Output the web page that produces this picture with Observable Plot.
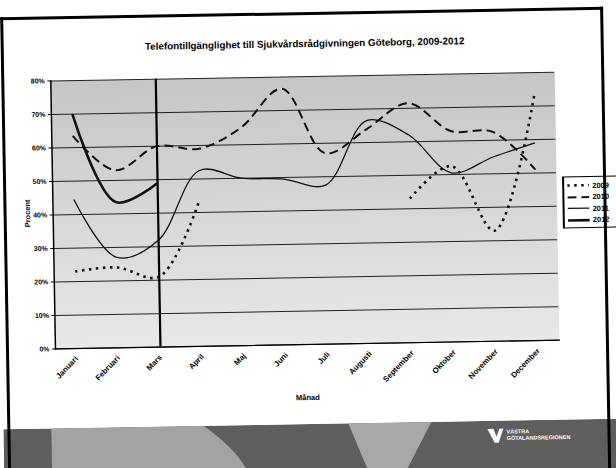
<!DOCTYPE html>
<html>
<head>
<meta charset="utf-8">
<script src="https://cdn.jsdelivr.net/npm/d3@7"></script>
<script src="https://cdn.jsdelivr.net/npm/@observablehq/plot@0.6"></script>
<style>
  html, body { margin: 0; padding: 0; background: #fff; overflow: hidden; }
  #slide { position: relative; width: 616px; height: 468px; transform: rotate(-1deg); transform-origin: 308px 234px; font-family: "Liberation Sans", Arial, sans-serif; color: #000; }
  #border { position: absolute; left: 4px; top: 12px; width: 603px; height: 470px; border: 3px solid #000; box-sizing: border-box; border-bottom: none; }
  #title { position: absolute; left: 0; width: 616px; top: 38px; text-align: center; font-size: 9.8px; font-weight: bold; color: #000; }
  #chart { position: absolute; left: 0; top: 0; }
  #ylabel { position: absolute; left: 8px; top: 204px; width: 40px; text-align: center; font-size: 7.5px; font-weight: bold; transform: rotate(-90deg); color: #000; }
  #xlabel { position: absolute; left: 265px; width: 80px; top: 393px; text-align: center; font-size: 7.5px; font-weight: bold; color: #000; }
  #legend { position: absolute; left: 563px; top: 181px; width: 60px; height: 50px; border: 1px solid #000; border-left: 2px solid #000; background: #fff; font-size: 7.5px; font-weight: bold; color: #000; }
  #legend .row { position: absolute; left: 3px; height: 10px; display: flex; align-items: center; }
  #legend .row span { margin-left: 3px; }
  #band { position: absolute; left: 0; top: 424px; }
</style>
</head>
<body>
<div id="slide">
  <div id="title">Telefontillgänglighet till Sjukvårdsrådgivningen Göteborg, 2009-2012</div>
  <div id="chart"></div>
  <div id="ylabel">Procent</div>
  <div id="xlabel">Månad</div>
  <div id="legend"></div>
  <svg id="band" width="630" height="60" viewBox="0 0 630 60">
    <rect x="0" y="0" width="630" height="60" fill="#5e5e5e"/>
    <path d="M48,0 L200,0 C225,18 240,35 250,60 L48,60 Z" fill="#a3a3a3"/>
    <path d="M345,0 L428,0 L396,60 L369,60 Z" fill="#a8a8a8"/>
    <path d="M484,8 L490,8 L493,16 L496,8 L500,8 L495,22 L491,22 Z" fill="#fff"/>
    <text x="503" y="13" fill="#fff" font-size="5.5" font-weight="bold">VÄSTRA</text>
    <text x="503" y="19.5" fill="#fff" font-size="5.5" font-weight="bold">GÖTALANDSREGIONEN</text>
  </svg>
  <div id="border"></div>
</div>
<script>
const months = ["Januari","Februari","Mars","April","Maj","Juni","Juli","Augusti","September","Oktober","November","December"];
const years = ["2009","2010","2011","2012"];
const v2009 = [23, 24, 21, 44, null, null, null, null, 43, 52.5, 33, 73];
const v2010 = [63.5, 53, 60, 59, 65, 76.5, 57, 64, 71.5, 63, 62.5, 51];
const v2011 = [44.5, 27, 32, 52.5, 50, 49.5, 47.5, 66.5, 62, 50.5, 55, 59];
const v2012 = [70, 43.5, 49, null, null, null, null, null, null, null, null, null];
const yTicks = [0, 10, 20, 30, 40, 50, 60, 70, 80];
const markerMonth = ["Mars"];

const seriesValues = {"2009": v2009, "2010": v2010, "2011": v2011, "2012": v2012};
const styles = {
  "2009": {strokeWidth: 2.6, strokeDasharray: "2.5,4.5"},
  "2010": {strokeWidth: 2, strokeDasharray: "9,5"},
  "2011": {strokeWidth: 1.3, strokeDasharray: null},
  "2012": {strokeWidth: 2.6, strokeDasharray: null}
};
const rows = years.flatMap(yr => months.map((m, i) => ({year: yr, month: m, value: seriesValues[yr][i]})));

const lineMarks = years.map(yr => Plot.line(rows.filter(d => d.year === yr), {
  x: "month", y: "value", stroke: "#111", curve: "catmull-rom",
  strokeWidth: styles[yr].strokeWidth, strokeDasharray: styles[yr].strokeDasharray,
  strokeLinecap: "butt", strokeLinejoin: "round"
}));

const chart = Plot.plot({
  width: 616, height: 420,
  marginLeft: 53, marginRight: 59, marginTop: 76, marginBottom: 76,
  style: {fontFamily: "Liberation Sans, Arial, sans-serif", fontSize: "7px", color: "#000", background: "transparent"},
  x: {type: "point", domain: months, padding: 0.5},
  y: {domain: [0, 80]},
  marks: [
    Plot.frame({fill: "url(#bgGrad)", stroke: null}),
    Plot.gridY(yTicks, {stroke: "#000", strokeOpacity: 0.85, strokeWidth: 1}),
    Plot.frame({anchor: "left", stroke: "#000", strokeWidth: 1.5}),
    Plot.frame({anchor: "bottom", stroke: "#000", strokeWidth: 1.2}),
    Plot.axisY({ticks: yTicks, tickFormat: d => d + "%", tickSize: 3, tickPadding: 3, label: null, fill: "#000", fontWeight: "bold"}),
    Plot.axisX({tickRotate: -45, tickSize: 0, tickPadding: 9, label: null, fill: "#000", fontWeight: "bold", fontSize: 7.8}),
    Plot.ruleX(markerMonth, {x: d => d, y1: 0, y2: 80, stroke: "#000", strokeWidth: 2.2}),
    ...lineMarks
  ]
});

// gradient background for the plot frame
const svg = d3.select(chart.tagName.toLowerCase() === "svg" ? chart : chart.querySelector("svg"));
const defs = svg.insert("defs", ":first-child");
const g = defs.append("linearGradient").attr("id", "bgGrad").attr("x1", 0).attr("y1", 0).attr("x2", 0).attr("y2", 1);
g.append("stop").attr("offset", "0%").attr("stop-color", "#c6c6c6");
g.append("stop").attr("offset", "100%").attr("stop-color", "#e8e8e8");
document.getElementById("chart").appendChild(chart);

// legend
const legend = d3.select("#legend");
years.forEach((yr, i) => {
  const row = legend.append("div").attr("class", "row").style("top", (3 + i * 11.5) + "px");
  const s = row.append("svg").attr("width", 22).attr("height", 6);
  s.append("line").attr("x1", 0).attr("x2", 22).attr("y1", 3).attr("y2", 3)
    .attr("stroke", "#111").attr("stroke-width", styles[yr].strokeWidth)
    .attr("stroke-dasharray", styles[yr].strokeDasharray);
  row.append("span").text(yr);
});
</script>
</body>
</html>
